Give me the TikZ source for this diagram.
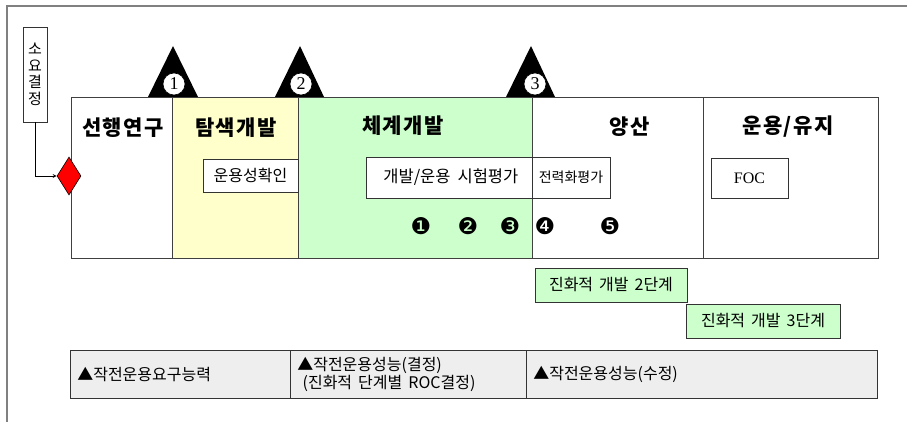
\documentclass[tikz,border=0pt]{standalone}
\usepackage{fontspec}
\setmainfont{Noto Sans CJK KR}
\newfontfamily\latinserif{Liberation Serif}
\newfontfamily\dingfont{DejaVu Sans}
\usetikzlibrary{shapes.geometric,positioning}
\definecolor{explorefill}{HTML}{FFFFCC}
\definecolor{systemfill}{HTML}{CCFFCC}
\definecolor{rocfill}{HTML}{EEEEEE}

\begin{document}
\begin{tikzpicture}[
    x=1pt, y=-1pt,
    frame/.style={draw=black!50, line width=1.2pt},
    phase/.style={draw=black!75, line width=0.8pt, anchor=north west, inner sep=0pt, minimum height=161pt},
    heading/.style={font=\bfseries\fontsize{21}{24}\selectfont\addfontfeatures{LetterSpace=7}},
    box/.style={draw=black!80, fill=white, line width=0.6pt, inner sep=0pt},
    stage/.style={box, fill=systemfill, minimum height=34pt, font=\fontsize{16}{18}\selectfont},
    roc/.style={box, fill=rocfill, anchor=north west, minimum height=48pt, inner xsep=7pt, align=left, font=\fontsize{16}{15.5}\selectfont},
    gate/.style={circle, draw, fill=white, line width=0.6pt, minimum size=22pt, inner sep=0pt, font=\latinserif\fontsize{18}{18}\selectfont},
    testdot/.style={font=\dingfont\fontsize{23}{23}\selectfont}
]
\useasboundingbox (0,0) rectangle (907,422);
% outer frame
\draw[frame] (907,6) -- (7,6) -- (7,422);

% phases
\node[phase, minimum width=101pt] (pre) at (71,97) {};
\node[phase, fill=explorefill, minimum width=126pt] (explore) at (172,97) {};
\node[phase, fill=systemfill, minimum width=234pt] (sysdev) at (298,97) {};
\node[phase, minimum width=171pt] (mass) at (532,97) {};
\node[phase, minimum width=175pt] (ops) at (703,97) {};

\node[heading] (pre text) at (123,128) {선행연구};
\node[heading] (explore text) at (236,128) {탐색개발};
\node[heading] (sysdev text) at (403,126) {체계개발};
\node[heading] (mass text) at (630,127) {양산};
\node[heading] (ops text) at (788,127) {운용/유지};

% milestones
\fill (148,97) -- (173,46) -- (198,97) -- cycle;
\fill (275,97) -- (300,46) -- (324,97) -- cycle;
\fill (506,97) -- (531,46) -- (555,97) -- cycle;
\node[gate] (ms1) at (174,84) {1};
\node[gate] (ms2) at (301,84) {2};
\node[gate] (ms3) at (535,84) {3};

% requirement decision
\node[box, minimum width=24pt, minimum height=95pt, align=center, font=\fontsize{15}{16.5}\selectfont] (decision) at (35,74.5) {소\\요\\결\\정};
\node[diamond, draw, fill=red, line width=0.6pt, minimum width=24pt, minimum height=38pt, inner sep=0pt] (start) at (69,176) {};
\draw[-stealth, line width=0.8pt] (decision.south) |- (start.west);

% evaluations
\node[box, minimum width=95pt, minimum height=33pt, font=\fontsize{16}{18}\selectfont] (confirm) at (250.5,175.5) {운용성확인};
\node[box, minimum width=166pt, minimum height=41pt, font=\fontsize{16.5}{18}\selectfont] (devtest) at (449,177.5) {\ 개발/운용\hspace{7pt}시험평가};
\node[box, minimum width=78pt, minimum height=41pt, font=\fontsize{14}{16}\selectfont] (fielding) at (571,177.5) {전력화평가};
\node[box, minimum width=77pt, minimum height=40pt, font=\latinserif\fontsize{16}{18}\selectfont] (foc) at (749.5,178) {FOC};

\node[testdot] (t1) at (421,226) {❶};
\node[testdot] (t2) at (468,226) {❷};
\node[testdot] (t3) at (510,226) {❸};
\node[testdot] (t4) at (545,226) {❹};
\node[testdot] (t5) at (610,226) {❺};

% evolutionary stages
\node[stage, minimum width=152pt] (stage2) at (611,285) {진화적\hspace{6pt}개발\hspace{6pt}2단계};
\node[stage, minimum width=154pt] (stage3) at (763,321) {진화적\hspace{6pt}개발\hspace{6pt}3단계};

% operational requirements
\node[roc, minimum width=220pt, text width=206pt] (orc) at (70,350) {▲작전운용요구능력};
\node[roc, minimum width=236pt, text width=222pt] (orp) at (290,350) {▲작전운용성능(결정)\\\ (진화적\hspace{6pt}단계별\hspace{6pt}ROC결정)};
\node[roc, minimum width=351pt, text width=337pt] (orprev) at (526,350) {▲작전운용성능(수정)};
\end{tikzpicture}
\end{document}
